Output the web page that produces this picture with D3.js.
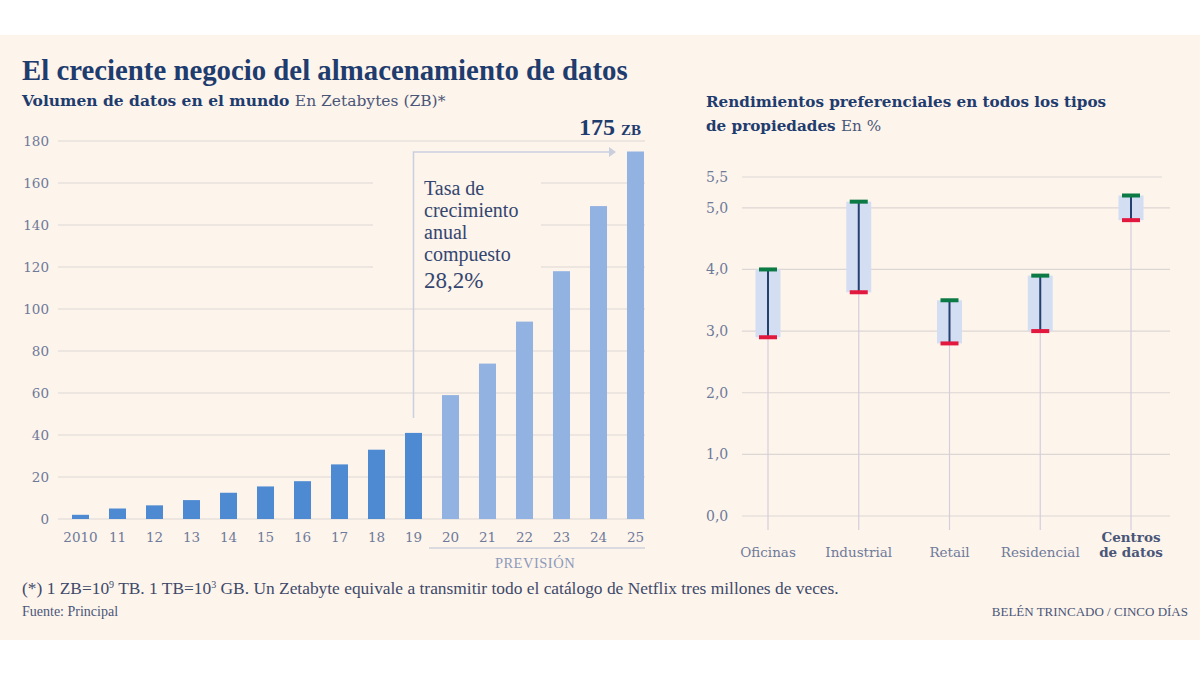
<!DOCTYPE html>
<html>
<head>
<meta charset="utf-8">
<script src="https://cdn.jsdelivr.net/npm/d3@7"></script>
<style>
  body { margin: 0; background: #fff; }
  svg text { font-family: "Liberation Serif", "DejaVu Serif", serif; }
  svg text.slab { font-family: "DejaVu Serif", serif; }
</style>
</head>
<body>
<svg id="chart" width="1200" height="675"></svg>
<script>
// datos - volumen (ZB)
var years = ["2010", "11", "12", "13", "14", "15", "16", "17", "18", "19",
    "20", "21", "22", "23", "24", "25"];
var volumen = [2, 5, 6.5, 9, 12.5, 15.5, 18, 26, 33, 41, 59, 74, 94, 118, 149, 175];
var firstForecast = "20";
var volTicks = [0, 20, 40, 60, 80, 100, 120, 140, 160, 180];

// datos - rendimientos (%)
var tipos = ["Oficinas", "Industrial", "Retail", "Residencial", "Centros de datos"];
var rendAlto = [4.0, 5.1, 3.5, 3.9, 5.2];
var rendBajo = [2.9, 3.63, 2.8, 3.0, 4.8];
var rendTicks = [0, 1, 2, 3, 4, 5, 5.5];

var bg = "#FDF4EC";
var navy = "#1F3C6E";
var axisCol = "#6E7A99";
var gridCol = "#DCD6D4";

var svg = d3.select("#chart");

svg.append("rect").attr("x", 0).attr("y", 35).attr("width", 1200).attr("height", 605)
    .attr("fill", bg);

// titulos
svg.append("text").attr("x", 22).attr("y", 80)
    .style("font-size", "28.8px").style("font-weight", "bold").style("fill", navy)
    .text("El creciente negocio del almacenamiento de datos");

var sub = svg.append("text").attr("class", "slab").attr("x", 22).attr("y", 106)
    .style("font-size", "15.5px").style("fill", navy);
sub.append("tspan").style("font-weight", "bold").text("Volumen de datos en el mundo ");
sub.append("tspan").style("fill", "#4A5678").text("En Zetabytes (ZB)*");

//---------------- bar chart ----------------
var x = d3.scaleBand().domain(years).range([62, 654])
    .paddingInner(0.54).paddingOuter(0.27);
var y = d3.scaleLinear().domain([0, 180]).range([519, 141]);

var gLeft = svg.append("g");

gLeft.selectAll(".grid").data(volTicks).enter().append("line")
    .attr("class", "grid")
    .attr("x1", 58).attr("x2", 645)
    .attr("y1", function (d) { return y(d); }).attr("y2", function (d) { return y(d); })
    .attr("stroke", gridCol).attr("stroke-width", 1.2);

gLeft.selectAll(".ylab").data(volTicks).enter().append("text")
    .attr("class", "ylab slab")
    .attr("x", 49).attr("y", function (d) { return y(d) + 5; })
    .attr("text-anchor", "end")
    .style("font-size", "13.5px").style("fill", axisCol)
    .text(function (d) { return d; });

// knock-out behind annotation text
gLeft.append("rect").attr("x", 373).attr("y", 168).attr("width", 168).attr("height", 128)
    .attr("fill", bg);

var fIdx = years.indexOf(firstForecast);
gLeft.selectAll(".bar").data(volumen).enter().append("rect")
    .attr("class", "bar")
    .attr("x", function (d, i) { return x(years[i]); })
    .attr("width", x.bandwidth())
    .attr("y", function (d) { return y(d); })
    .attr("height", function (d) { return y(0) - y(d); })
    .attr("fill", function (d, i) { return i < fIdx ? "#4D8AD1" : "#92B2E2"; });

gLeft.selectAll(".xlab").data(years).enter().append("text")
    .attr("class", "xlab slab")
    .attr("x", function (d) { return x(d) + x.bandwidth() / 2; })
    .attr("y", 542)
    .attr("text-anchor", "middle")
    .style("font-size", "13.5px").style("fill", axisCol)
    .text(function (d) { return d; });

// prevision
var px1 = x(firstForecast) - 13, px2 = 645;
gLeft.append("line").attr("x1", px1).attr("x2", px2).attr("y1", 548).attr("y2", 548)
    .attr("stroke", "#B7C0D6").attr("stroke-width", 1.2);
gLeft.append("text").attr("x", (px1 + px2) / 2 - 2).attr("y", 568)
    .attr("text-anchor", "middle")
    .style("font-size", "14.5px").style("fill", "#8E9BBA").style("letter-spacing", "0.5px")
    .text("PREVISIÓN");

// annotation arrow
var ax = x("19") + x.bandwidth() / 2;
var lastX = x(years[years.length - 1]);
var annCol = "#C9CFDD";
gLeft.append("path")
    .attr("d", "M" + ax + "," + (y(volumen[9]) - 15) + "V152H" + (lastX - 12))
    .attr("fill", "none").attr("stroke", annCol).attr("stroke-width", 1.5);
gLeft.append("path")
    .attr("d", "M" + (lastX - 18) + ",147L" + (lastX - 11) + ",152L" + (lastX - 18) + ",157Z")
    .attr("fill", annCol);

var annLines = ["Tasa de", "crecimiento", "anual", "compuesto"];
gLeft.selectAll(".ann").data(annLines).enter().append("text")
    .attr("class", "ann")
    .attr("x", 424).attr("y", function (d, i) { return 195 + i * 22; })
    .style("font-size", "20px").style("fill", "#34466F")
    .text(function (d) { return d; });
gLeft.append("text").attr("x", 424).attr("y", 288)
    .style("font-size", "23px").style("fill", "#34466F")
    .text("28,2%");

var lab175 = gLeft.append("text").attr("x", 641).attr("y", 135).attr("text-anchor", "end")
    .style("font-weight", "bold").style("fill", navy);
lab175.append("tspan").style("font-size", "24px").text(volumen[volumen.length - 1] + " ");
lab175.append("tspan").style("font-size", "15px").text("ZB");

//---------------- range chart ----------------
var rt = svg.append("text").attr("class", "slab").attr("x", 706).attr("y", 107)
    .style("font-size", "15.2px").style("font-weight", "bold").style("fill", navy);
rt.text("Rendimientos preferenciales en todos los tipos");
var rt2 = svg.append("text").attr("class", "slab").attr("x", 706).attr("y", 131)
    .style("font-size", "15.2px").style("fill", navy);
rt2.append("tspan").style("font-weight", "bold").text("de propiedades ");
rt2.append("tspan").style("fill", "#4A5678").text("En %");

var xr = d3.scalePoint().domain(tipos).range([768, 1131]);
var yr = d3.scaleLinear().domain([0, 5.5]).range([516, 177]);
var fmt = function (d) { return d3.format(".1f")(d).replace(".", ","); };

var gRight = svg.append("g");

gRight.selectAll(".rgrid").data(rendTicks).enter().append("line")
    .attr("class", "rgrid")
    .attr("x1", 742).attr("x2", function (d) { return d === 5.5 ? 1162 : 1170; })
    .attr("y1", function (d) { return yr(d); }).attr("y2", function (d) { return yr(d); })
    .attr("stroke", gridCol).attr("stroke-width", 1.2);

gRight.selectAll(".rlab").data(rendTicks).enter().append("text")
    .attr("class", "rlab slab")
    .attr("x", 706).attr("y", function (d) { return yr(d) + 5; })
    .style("font-size", "14px").style("fill", axisCol)
    .text(fmt);

var items = gRight.selectAll(".item").data(tipos).enter().append("g")
    .attr("class", "item")
    .attr("transform", function (d) { return "translate(" + xr(d) + ",0)"; });

items.append("line")
    .attr("x1", 0).attr("x2", 0)
    .attr("y1", function (d, i) { return yr(rendBajo[i]); })
    .attr("y2", yr(0) + 14)
    .attr("stroke", "#D3CFDC").attr("stroke-width", 1.2);

items.append("rect")
    .attr("x", -12.5).attr("width", 25)
    .attr("y", function (d, i) { return yr(rendAlto[i]); })
    .attr("height", function (d, i) { return yr(rendBajo[i]) - yr(rendAlto[i]); })
    .attr("fill", "#D3DEF2");

items.append("line")
    .attr("x1", 0).attr("x2", 0)
    .attr("y1", function (d, i) { return yr(rendAlto[i]); })
    .attr("y2", function (d, i) { return yr(rendBajo[i]); })
    .attr("stroke", "#24406F").attr("stroke-width", 2);

items.append("rect")
    .attr("x", -9).attr("width", 18).attr("height", 4)
    .attr("y", function (d, i) { return yr(rendAlto[i]) - 2; })
    .attr("fill", "#0B7A45");

items.append("rect")
    .attr("x", -9).attr("width", 18).attr("height", 4)
    .attr("y", function (d, i) { return yr(rendBajo[i]) - 2; })
    .attr("fill", "#E2183F");

items.each(function (d) {
    var g = d3.select(this);
    var last = d === "Centros de datos";
    var words = last ? ["Centros", "de datos"] : [d];
    words.forEach(function (w, j) {
        g.append("text")
            .attr("class", "slab")
            .attr("y", last ? 542 + j * 15 : 557)
            .attr("text-anchor", "middle")
            .style("font-size", "13.5px")
            .style("font-weight", last ? "bold" : "normal")
            .style("fill", last ? "#4A5678" : axisCol)
            .text(w);
    });
});

//---------------- footer ----------------
var foot = svg.append("text").attr("x", 22).attr("y", 594)
    .style("font-size", "17.4px").style("fill", "#3E4A6A");
foot.append("tspan").text("(*) 1 ZB=10");
foot.append("tspan").attr("dy", -6).style("font-size", "10px").text("9");
foot.append("tspan").attr("dy", 6).text(" TB. 1 TB=10");
foot.append("tspan").attr("dy", -6).style("font-size", "10px").text("3");
foot.append("tspan").attr("dy", 6)
    .text(" GB. Un Zetabyte equivale a transmitir todo el catálogo de Netflix tres millones de veces.");

svg.append("text").attr("x", 22).attr("y", 616)
    .style("font-size", "14px").style("fill", "#4A5678")
    .text("Fuente: Principal");
svg.append("text").attr("x", 1188).attr("y", 616).attr("text-anchor", "end")
    .style("font-size", "13px").style("fill", "#4A5678")
    .text("BELÉN TRINCADO / CINCO DÍAS");
</script>
</body>
</html>
